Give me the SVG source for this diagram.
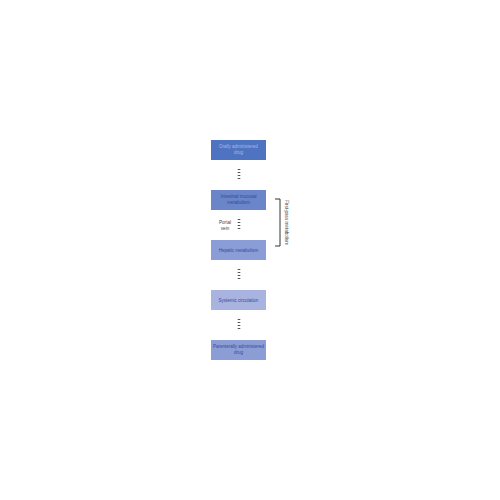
<svg xmlns="http://www.w3.org/2000/svg" width="500" height="500" viewBox="0 0 500 500">
<style>
.box{stroke:none}
.t{font-family:"Liberation Sans",Arial,sans-serif;font-size:4.5px;fill:#34499a;text-anchor:middle}
.t1{fill:#a9b9e6}
.d{font-family:"Liberation Sans",Arial,sans-serif;font-size:4.6px;fill:#444;text-anchor:middle}
.c{stroke:#555;stroke-width:2.6;stroke-dasharray:1 2;fill:none}
</style>
<rect width="500" height="500" fill="#fff"/>
<g id="connectors">
<line class="c" x1="239" y1="169" x2="239" y2="180"/>
<line class="c" x1="239" y1="219" x2="239" y2="230"/>
<line class="c" x1="239" y1="269" x2="239" y2="280"/>
<line class="c" x1="239" y1="319" x2="239" y2="330"/>
<path d="M275 199 H280 V246 H275" fill="none" stroke="#333" stroke-width="1"/>
</g>
<g id="n1"><rect class="box" x="211" y="140" width="55" height="20" fill="#4e73c1"/><text class="t t1" x="238.5" y="148">Orally administered</text><text class="t t1" x="238.5" y="154">drug</text></g>
<g id="n2"><rect class="box" x="211" y="190" width="55" height="20" fill="#6a86c9"/><text class="t" x="238.5" y="198">Intestinal mucosal</text><text class="t" x="238.5" y="204">metabolism</text></g>
<g id="n3"><rect class="box" x="211" y="240" width="55" height="20" fill="#8b9dd6"/><text class="t" x="238.5" y="251.5">Hepatic metabolism</text></g>
<g id="n4"><rect class="box" x="211" y="290" width="55" height="20" fill="#a8b3e0"/><text class="t" x="238.5" y="301.5">Systemic circulation</text></g>
<g id="n5"><rect class="box" x="211" y="340" width="55" height="20" fill="#8c9dd6"/><text class="t" x="238.5" y="348">Parenterally administered</text><text class="t" x="238.5" y="354">drug</text></g>
<g id="portal"><text class="d" x="225" y="224">Portal</text><text class="d" x="225" y="230">vein</text></g>
<g id="firstpass"><text class="d" transform="translate(285 222.5) rotate(90)" y="0">First-pass metabolism</text></g>
</svg>
